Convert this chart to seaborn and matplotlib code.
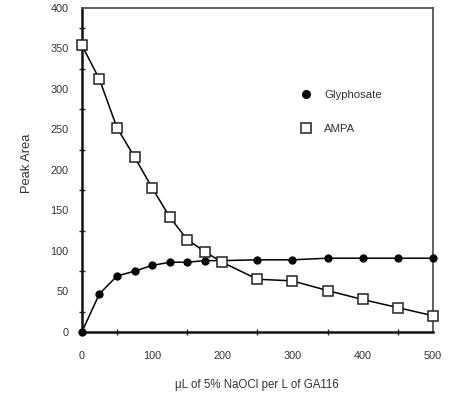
import matplotlib
matplotlib.use("Agg")
import matplotlib.pyplot as plt
import seaborn as sns
import pandas as pd
from matplotlib.lines import Line2D
from matplotlib.ticker import MultipleLocator

dose = [0, 25, 50, 75, 100, 125, 150, 175, 200, 250, 300, 350, 400, 450, 500]
glyphosate = [0, 47, 69, 75, 82, 86, 86, 88, 88, 89, 89, 91, 91, 91, 91]
ampa = [354, 312, 252, 216, 178, 142, 114, 99, 86, 65, 63, 51, 40, 30, 20]

sns.set_theme(style="white")
plt.rcParams['font.family'] = ['Liberation Sans', 'DejaVu Sans']

df = pd.DataFrame({"dose": dose, "Glyphosate": glyphosate, "AMPA": ampa})

fig = plt.figure(figsize=(4.6, 3.97), dpi=100)
ax = fig.add_axes([0.178, 0.164, 0.763, 0.816])

sns.lineplot(data=df, x="dose", y="Glyphosate", ax=ax, color="black", lw=1.1,
             marker="o", markersize=5.2, markerfacecolor="black",
             markeredgecolor="black", zorder=3, clip_on=False)
sns.lineplot(data=df, x="dose", y="AMPA", ax=ax, color="black", lw=1.1,
             marker="s", markersize=7.5, markerfacecolor="white",
             markeredgecolor="#222222", markeredgewidth=1.1, zorder=4, clip_on=False)

ax.set_xlim(0, 500)
ax.set_ylim(0, 400)
ax.xaxis.set_major_locator(MultipleLocator(100))
ax.xaxis.set_minor_locator(MultipleLocator(50))
ax.yaxis.set_major_locator(MultipleLocator(50))
ax.yaxis.set_minor_locator(MultipleLocator(25))
ax.tick_params(axis="both", which="major", direction="inout", length=5, width=1,
               labelsize=7.8, colors="#333333", pad=7)
ax.tick_params(axis="both", which="minor", direction="inout", length=4, width=1,
               bottom=True, left=True)
ax.tick_params(axis="x", which="major", pad=11)

for side in ["left", "bottom"]:
    ax.spines[side].set_color("#111111")
    ax.spines[side].set_linewidth(1.8)
for side in ["top", "right"]:
    ax.spines[side].set_color("#555555")
    ax.spines[side].set_linewidth(1.3)

ax.set_xlabel("\u03bcL of 5% NaOCl per L of GA116", fontsize=8.3, color="#333333", labelpad=13)
ax.set_ylabel("Peak Area", fontsize=9.3, color="#333333")
ax.yaxis.set_label_coords(-0.138, 0.52)

handles = [
    Line2D([], [], linestyle="none", marker="o", markersize=5.5, color="black"),
    Line2D([], [], linestyle="none", marker="s", markersize=7.5, markerfacecolor="white",
           markeredgecolor="#333333", markeredgewidth=1.2),
]
ax.legend(handles, ["Glyphosate", "AMPA"], loc="center left",
          bbox_to_anchor=(0.577, 0.68), frameon=False, fontsize=8.2, labelcolor="#333333",
          handletextpad=0.6, labelspacing=2.1)

fig.savefig("out.png", dpi=100)
